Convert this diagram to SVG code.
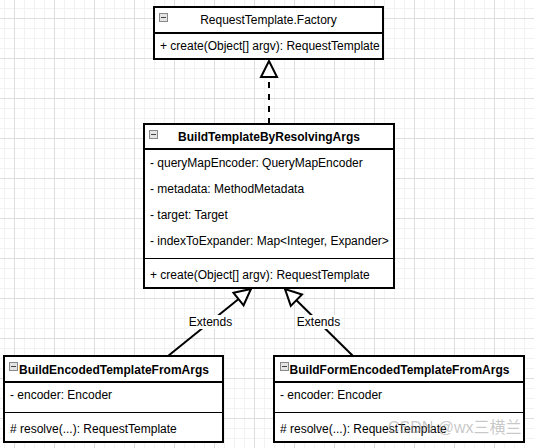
<svg xmlns="http://www.w3.org/2000/svg" width="534" height="448" viewBox="0 0 534 448">
<style>
.box{fill:#fff;stroke:#000;stroke-width:2}
.div{stroke:#000;stroke-width:2}
.sep{stroke:#000;stroke-width:1}
.t{font-family:"Liberation Sans",Arial,sans-serif;font-size:12px;fill:#000}
.b{font-weight:bold}
.c{text-anchor:middle}
.ico{fill:#e4e4e4;stroke:#888;stroke-width:1}
.icm{stroke:#444;stroke-width:1}
.edge{fill:none;stroke:#000;stroke-width:2}
.lbl{fill:#fff}
</style>
<defs>
<pattern id="minor" x="4" y="8" width="10" height="10" patternUnits="userSpaceOnUse">
<path d="M0.5,0 V10 M0,0.5 H10" stroke="#f2f2f2" stroke-width="1" fill="none"/>
</pattern>
<pattern id="major" x="14" y="18" width="40" height="40" patternUnits="userSpaceOnUse">
<path d="M0.5,0 V40 M0,0.5 H40" stroke="#dedede" stroke-width="1" fill="none"/>
</pattern>
<marker id="tri" markerUnits="userSpaceOnUse" markerWidth="20" markerHeight="20" refX="17" refY="9" viewBox="-1 -1 20 20" orient="auto" overflow="visible">
<path d="M1,1 L17,9 L1,17 Z" fill="#fff" stroke="#000" stroke-width="2" stroke-linejoin="miter"/>
</marker>
</defs>
<rect width="534" height="448" fill="#fff"/>
<rect width="534" height="448" fill="url(#minor)"/>
<rect width="534" height="448" fill="url(#major)"/>

<g id="connectors">
<line class="edge" x1="269" y1="124" x2="269" y2="61" stroke-dasharray="6 6" marker-end="url(#tri)"/>
<line class="edge" x1="168" y1="356" x2="251" y2="289" marker-end="url(#tri)"/>
<line class="edge" x1="353" y1="356" x2="285" y2="289" marker-end="url(#tri)"/>
<rect class="lbl" x="188" y="315" width="45" height="14"/>
<text class="t c" x="210.5" y="326">Extends</text>
<rect class="lbl" x="296" y="315" width="45" height="14"/>
<text class="t c" x="318.5" y="326">Extends</text>
</g>

<g id="RequestTemplateFactory">
<rect class="box" x="154" y="7" width="229" height="52"/>
<line class="div" x1="154" y1="33" x2="383" y2="33"/>
<rect class="ico" x="159.5" y="13.5" width="8" height="8"/>
<line class="icm" x1="161" y1="17.5" x2="166" y2="17.5"/>
<text class="t c" x="268.5" y="24">RequestTemplate.Factory</text>
<text class="t" x="160" y="50">+ create(Object[] argv): RequestTemplate</text>
</g>

<g id="BuildTemplateByResolvingArgs">
<rect class="box" x="144" y="124" width="250" height="164"/>
<line class="div" x1="144" y1="149" x2="394" y2="149"/>
<line class="sep" x1="144" y1="258.5" x2="394" y2="258.5"/>
<rect class="ico" x="149.5" y="130.5" width="8" height="8"/>
<line class="icm" x1="151" y1="134.5" x2="156" y2="134.5"/>
<text class="t b c" x="269" y="141">BuildTemplateByResolvingArgs</text>
<text class="t" x="150" y="167">- queryMapEncoder: QueryMapEncoder</text>
<text class="t" x="150" y="193">- metadata: MethodMetadata</text>
<text class="t" x="150" y="219">- target: Target</text>
<text class="t" x="150" y="245">- indexToExpander: Map&lt;Integer, Expander&gt;</text>
<text class="t" x="150" y="279">+ create(Object[] argv): RequestTemplate</text>
</g>

<g id="BuildEncodedTemplateFromArgs">
<rect class="box" x="4" y="356" width="219" height="86"/>
<line class="div" x1="4" y1="382" x2="223" y2="382"/>
<line class="sep" x1="4" y1="412.5" x2="223" y2="412.5"/>
<rect class="ico" x="9.5" y="362.5" width="8" height="8"/>
<line class="icm" x1="11" y1="366.5" x2="16" y2="366.5"/>
<text class="t b c" x="114" y="374">BuildEncodedTemplateFromArgs</text>
<text class="t" x="10" y="399">- encoder: Encoder</text>
<text class="t" x="10" y="433"># resolve(...): RequestTemplate</text>
</g>

<g id="BuildFormEncodedTemplateFromArgs">
<rect class="box" x="274" y="356" width="250" height="86"/>
<line class="div" x1="274" y1="382" x2="524" y2="382"/>
<line class="sep" x1="274" y1="412.5" x2="524" y2="412.5"/>
<rect class="ico" x="280.5" y="362.5" width="8" height="8"/>
<line class="icm" x1="282" y1="366.5" x2="287" y2="366.5"/>
<text class="t b c" x="399.5" y="374">BuildFormEncodedTemplateFromArgs</text>
<text class="t" x="280" y="399">- encoder: Encoder</text>
<text class="t" x="280" y="433"># resolve(...): RequestTemplate</text>
</g>

<text x="388" y="433" font-family="'Liberation Sans','Noto Sans CJK SC',sans-serif" font-size="16" fill="#999" fill-opacity="0.55">CSDN @wx三横兰</text>
</svg>
